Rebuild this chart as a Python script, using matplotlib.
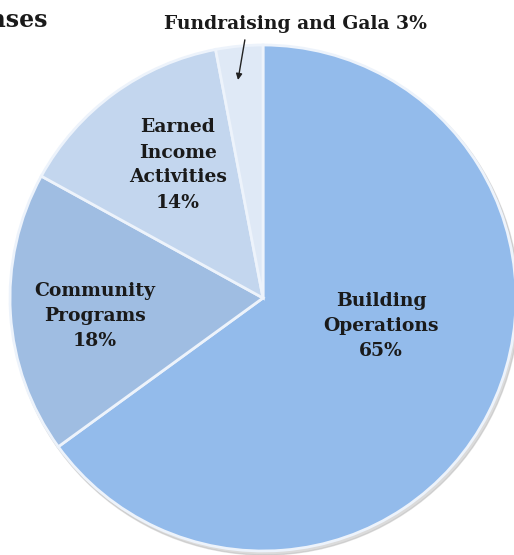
import matplotlib.pyplot as plt
from matplotlib.patches import Circle

# data
categories = ['Building\nOperations', 'Community\nPrograms', 'Earned\nIncome\nActivities', 'Fundraising and Gala']
shares = [65, 18, 14, 3]
colors = ['#93bbeb', '#9fbde2', '#c3d6ee', '#dfe9f6']

W, H = 514, 555
fig = plt.figure(figsize=(W / 100, H / 100), dpi=100)
ax = fig.add_axes([0, 0, 1, 1])

cx, cy, r = 263, H - 298, 253

# faint shadow under the pie
ax.add_patch(Circle((cx + 2, cy - 3), r + 1, color='#b8b8b8', alpha=0.5, zorder=0))

wedges, _ = ax.pie(shares, colors=colors, startangle=90, counterclock=False,
                   center=(cx, cy), radius=r,
                   wedgeprops=dict(edgecolor='#edf3fb', linewidth=2.0),
                   frame=True)
ax.set_xlim(0, W)
ax.set_ylim(0, H)
ax.set_aspect('equal')
ax.axis('off')

font = dict(family='DejaVu Serif', fontweight='bold', color='#1a1a1a')

# labels inside slices
label_pos = [(381, 326), (95, 316), (178, 165)]
for (x, y), name, s in zip(label_pos, categories[:3], shares[:3]):
    ax.text(x, H - y, f'{name}\n{s}%', ha='center', va='center', fontsize=13.5,
            linespacing=1.5, **font)

# outside label with arrow for the small slice
ax.annotate(f'{categories[3]} {shares[3]}%', xy=(238, H - 80), xytext=(296, H - 24),
            ha='center', va='center', fontsize=13.5, **font,
            arrowprops=dict(arrowstyle='-|>', color='#222222', lw=1.0,
                            shrinkA=3, shrinkB=0, mutation_scale=9,
                            relpos=(0.31, 0.0)))

# title, cut off at the left edge as in the source image
ax.text(48, H - 20, 'Expenses', ha='right', va='center', fontsize=17, **font)

fig.savefig('out.png', dpi=100)
